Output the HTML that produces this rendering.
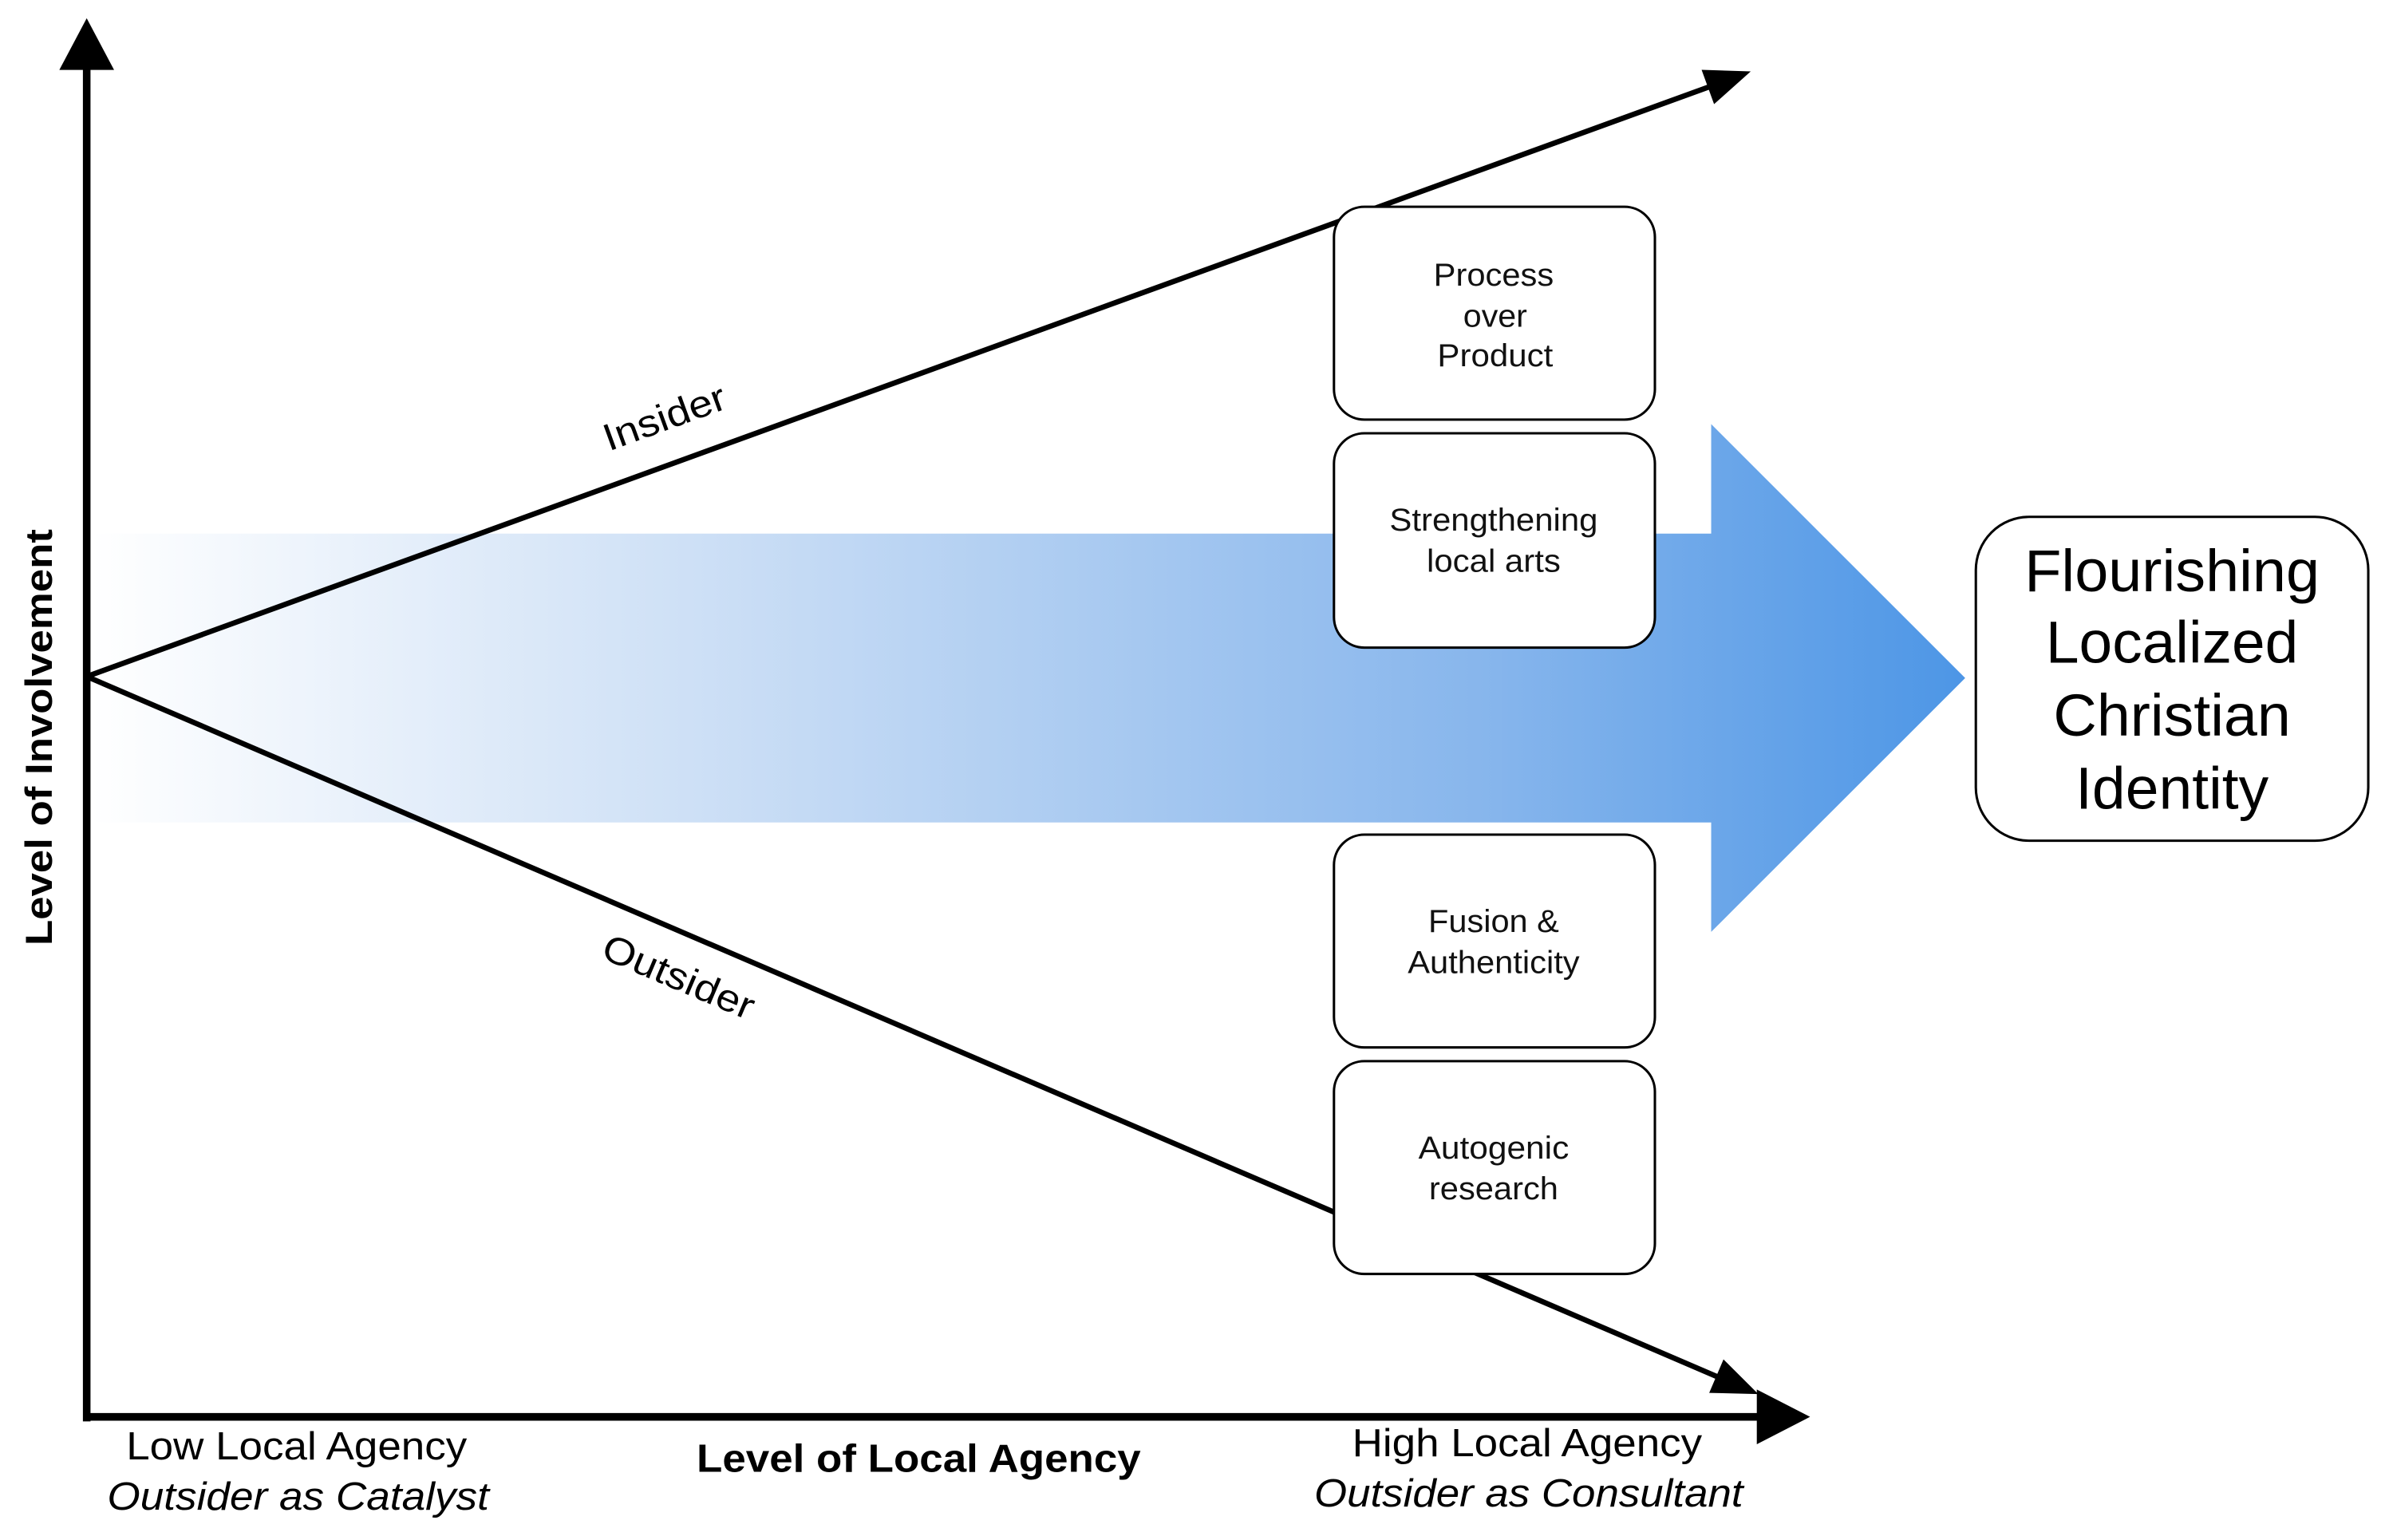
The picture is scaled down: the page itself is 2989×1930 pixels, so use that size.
<!DOCTYPE html>
<html><head><meta charset="utf-8"><style>html,body{margin:0;padding:0;background:#fff}svg{display:block}text{font-family:"Liberation Sans",Arial,sans-serif}</style></head>
<body>
<svg width="2989" height="1930" viewBox="0 0 1568 1013" preserveAspectRatio="none" xmlns="http://www.w3.org/2000/svg">
<defs>
<linearGradient id="g" x1="60" y1="0" x2="1292" y2="0" gradientUnits="userSpaceOnUse">
<stop offset="0" stop-color="#ffffff"/>
<stop offset="0.35" stop-color="#c9ddf5"/>
<stop offset="0.75" stop-color="#86b5ec"/>
<stop offset="1" stop-color="#4d96e6"/>
</linearGradient>
</defs>
<rect width="1568" height="1013" fill="#fff"/>
<polygon points="60,351 1125,351 1125,279 1292,446 1125,613 1125,541 60,541" fill="url(#g)"/>
<line x1="57" y1="935" x2="57" y2="40" stroke="#000" stroke-width="5"/>
<polygon points="39,46 75,46 57,12" fill="#000"/>
<line x1="55" y1="932" x2="1160" y2="932" stroke="#000" stroke-width="5"/>
<polygon points="1155,914 1155,950 1190,932" fill="#000"/>
<line x1="57" y1="445" x2="1124" y2="57" stroke="#000" stroke-width="3.5"/>
<polygon points="1151,47 1126.9,68.5 1118.7,45.9" fill="#000"/>
<line x1="57" y1="445" x2="1130" y2="906" stroke="#000" stroke-width="3.5"/>
<polygon points="1156,917 1123.7,916.2 1133.1,894.2" fill="#000"/>
<g lengthAdjust="spacingAndGlyphs">
<text x="437" y="283" font-size="25" text-anchor="middle" textLength="84" lengthAdjust="spacingAndGlyphs" transform="rotate(-20 437 275)">Insider</text>
<text x="446" y="651" font-size="25" text-anchor="middle" textLength="106" lengthAdjust="spacingAndGlyphs" transform="rotate(23 446 643)">Outsider</text>
</g>
<g fill="#fff" stroke="#000" stroke-width="1.6">
<rect x="877" y="136" width="211" height="140" rx="20"/>
<rect x="877" y="285" width="211" height="141" rx="20"/>
<rect x="877" y="549" width="211" height="140" rx="20"/>
<rect x="877" y="698" width="211" height="140" rx="20"/>
<rect x="1299" y="340" width="258" height="213" rx="35"/>
</g>
<g font-size="21" text-anchor="middle" fill="#111">
<text x="982" y="188" textLength="79" lengthAdjust="spacingAndGlyphs">Process</text>
<text x="983" y="215" textLength="42" lengthAdjust="spacingAndGlyphs">over</text>
<text x="983" y="241" textLength="76" lengthAdjust="spacingAndGlyphs">Product</text>
<text x="982" y="349" textLength="137" lengthAdjust="spacingAndGlyphs">Strengthening</text>
<text x="982" y="376" textLength="88" lengthAdjust="spacingAndGlyphs">local arts</text>
<text x="982" y="613" textLength="86" lengthAdjust="spacingAndGlyphs">Fusion &amp;</text>
<text x="982" y="640" textLength="113" lengthAdjust="spacingAndGlyphs">Authenticity</text>
<text x="982" y="762" textLength="99" lengthAdjust="spacingAndGlyphs">Autogenic</text>
<text x="982" y="789" textLength="85" lengthAdjust="spacingAndGlyphs">research</text>
</g>
<g font-size="39" text-anchor="middle">
<text x="1428" y="389" textLength="194" lengthAdjust="spacingAndGlyphs">Flourishing</text>
<text x="1428" y="436" textLength="166" lengthAdjust="spacingAndGlyphs">Localized</text>
<text x="1428" y="484" textLength="156" lengthAdjust="spacingAndGlyphs">Christian</text>
<text x="1428" y="532" textLength="127" lengthAdjust="spacingAndGlyphs">Identity</text>
</g>
<text x="34" y="485" font-size="25" font-weight="bold" text-anchor="middle" textLength="274" lengthAdjust="spacingAndGlyphs" transform="rotate(-90 34 485)">Level of Involvement</text>
<g font-size="26" text-anchor="middle">
<text x="195" y="960" textLength="224" lengthAdjust="spacingAndGlyphs">Low Local Agency</text>
<text x="196" y="993" font-style="italic" textLength="251" lengthAdjust="spacingAndGlyphs">Outsider as Catalyst</text>
<text x="604" y="968" font-weight="bold" textLength="292" lengthAdjust="spacingAndGlyphs">Level of Local Agency</text>
<text x="1004" y="958" textLength="230" lengthAdjust="spacingAndGlyphs">High Local Agency</text>
<text x="1005" y="991" font-style="italic" textLength="282" lengthAdjust="spacingAndGlyphs">Outsider as Consultant</text>
</g>
</svg>
</body></html>
